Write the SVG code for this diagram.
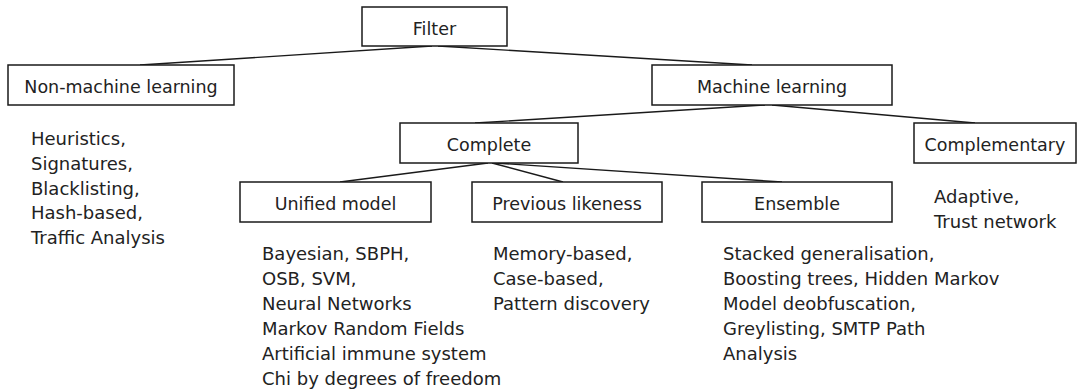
<svg xmlns="http://www.w3.org/2000/svg" width="1078" height="389" viewBox="0 0 1078 389">
<style>
  .box { fill: #ffffff; stroke: #1a1a1a; stroke-width: 1.5; }
  .lbl { font-family: "DejaVu Sans", Verdana, sans-serif; font-size: 17.5px; fill: #222222; text-anchor: middle; }
  .lst { font-family: "DejaVu Sans", Verdana, sans-serif; font-size: 18px; fill: #222222; }
  .con { stroke: #1a1a1a; stroke-width: 1.4; fill: none; }
</style>
<rect width="1078" height="389" fill="#ffffff"/>
<g id="connectors">
  <line class="con" x1="432" y1="46" x2="140" y2="65"/>
  <line class="con" x1="438" y1="46" x2="752" y2="65"/>
  <line class="con" x1="765" y1="105" x2="475" y2="123"/>
  <line class="con" x1="772" y1="105" x2="975" y2="123"/>
  <line class="con" x1="488" y1="163" x2="340" y2="182"/>
  <line class="con" x1="492" y1="163" x2="563" y2="182"/>
  <line class="con" x1="495" y1="163" x2="782" y2="182"/>
</g>
<g id="filter">
  <rect class="box" x="362" y="7" width="145" height="39"/>
  <text class="lbl" x="434.5" y="35">Filter</text>
</g>
<g id="non-machine-learning">
  <rect class="box" x="8" y="65" width="226" height="40"/>
  <text class="lbl" x="121" y="93">Non-machine learning</text>
  <text class="lst" x="31" y="145">Heuristics,</text>
  <text class="lst" x="31" y="170">Signatures,</text>
  <text class="lst" x="31" y="195">Blacklisting,</text>
  <text class="lst" x="31" y="219">Hash-based,</text>
  <text class="lst" x="31" y="244">Traffic Analysis</text>
</g>
<g id="machine-learning">
  <rect class="box" x="652" y="65" width="240" height="40"/>
  <text class="lbl" x="772" y="93">Machine learning</text>
</g>
<g id="complete">
  <rect class="box" x="400" y="123" width="178" height="40"/>
  <text class="lbl" x="489" y="151">Complete</text>
</g>
<g id="complementary">
  <rect class="box" x="914" y="123" width="162" height="40"/>
  <text class="lbl" x="995" y="151">Complementary</text>
  <text class="lst" x="934" y="203">Adaptive,</text>
  <text class="lst" x="934" y="228">Trust network</text>
</g>
<g id="unified-model">
  <rect class="box" x="240" y="182" width="191" height="40"/>
  <text class="lbl" x="335.5" y="210">Unified model</text>
  <text class="lst" x="262" y="260">Bayesian, SBPH,</text>
  <text class="lst" x="262" y="285">OSB, SVM,</text>
  <text class="lst" x="262" y="310">Neural Networks</text>
  <text class="lst" x="262" y="335">Markov Random Fields</text>
  <text class="lst" x="262" y="360">Artificial immune system</text>
  <text class="lst" x="262" y="385">Chi by degrees of freedom</text>
</g>
<g id="previous-likeness">
  <rect class="box" x="472" y="182" width="190" height="40"/>
  <text class="lbl" x="567" y="210">Previous likeness</text>
  <text class="lst" x="493" y="260">Memory-based,</text>
  <text class="lst" x="493" y="285">Case-based,</text>
  <text class="lst" x="493" y="310">Pattern discovery</text>
</g>
<g id="ensemble">
  <rect class="box" x="702" y="182" width="190" height="40"/>
  <text class="lbl" x="797" y="210">Ensemble</text>
  <text class="lst" x="723" y="260">Stacked generalisation,</text>
  <text class="lst" x="723" y="285">Boosting trees, Hidden Markov</text>
  <text class="lst" x="723" y="310">Model deobfuscation,</text>
  <text class="lst" x="723" y="335">Greylisting, SMTP Path</text>
  <text class="lst" x="723" y="360">Analysis</text>
</g>
</svg>
